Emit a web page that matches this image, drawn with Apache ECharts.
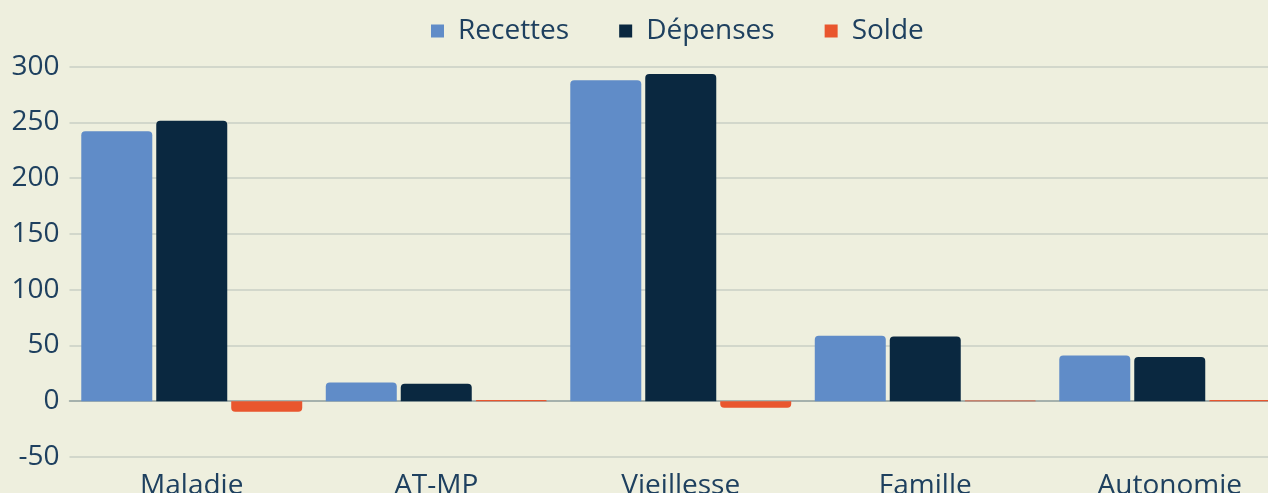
<!DOCTYPE html>
<html>
<head>
<meta charset="utf-8">
<script src="https://cdn.jsdelivr.net/npm/echarts@6/dist/echarts.min.js"></script>
<style>
  html, body { margin: 0; padding: 0; background: #eeefde; overflow: hidden; }
  #chart { width: 1292px; height: 493px; }
</style>
</head>
<body>
<div id="chart"></div>
<script>
const categories = ['Maladie', 'AT-MP', 'Vieillesse', 'Famille', 'Autonomie'];
const recettes = [242.2, 16.8, 287.8, 58.7, 41.0];
const depenses = [251.6, 15.7, 293.4, 58.0, 39.7];
const solde = [-9.4, 1.1, -5.9, 0.6, 1.2];
const yTicks = { min: -50, max: 300, interval: 50 };

const textColor = '#1e405f';
const font = 'Open Sans';

function barData(values) {
  return values.map(v => ({
    value: v,
    itemStyle: { borderRadius: v < 0 ? [0, 0, 4, 4] : [4, 4, 0, 0] }
  }));
}

let myChart = echarts.init(document.getElementById('chart'));
let option = {
  backgroundColor: '#eeefde',
  animation: false,
  textStyle: { fontFamily: font },
  legend: {
    top: 12,
    left: 426,
    itemWidth: 13,
    itemHeight: 13,
    itemGap: 50,
    icon: 'rect',
    textStyle: { color: textColor, fontSize: 28, fontFamily: font, padding: [0, 0, 0, 9] },
    data: ['Recettes', 'Dépenses', 'Solde']
  },
  grid: {
    left: 69.5,
    right: 0,
    top: 66.7,
    bottom: 36,
    outerBoundsMode: 'none'
  },
  xAxis: [
    {
      type: 'category',
      data: categories,
      axisLine: { show: false, onZero: false },
      axisTick: { show: false },
      axisLabel: { color: textColor, fontSize: 28, fontFamily: font, margin: 15 }
    },
    {
      // ligne du zéro
      type: 'category',
      data: categories,
      axisLine: { show: true, onZero: true, lineStyle: { color: '#97a5a3', width: 1.5 } },
      axisTick: { show: false },
      axisLabel: { show: false }
    }
  ],
  yAxis: {
    type: 'value',
    min: yTicks.min,
    max: yTicks.max,
    interval: yTicks.interval,
    axisLabel: { color: textColor, fontSize: 28, fontFamily: font, margin: 10 },
    splitLine: { lineStyle: { color: '#c9cfc4', width: 1.5 } }
  },
  series: [
    {
      name: 'Recettes',
      type: 'bar',
      barWidth: 71,
      barGap: '5.6%',
      itemStyle: { color: '#608cc8' },
      data: barData(recettes)
    },
    {
      name: 'Dépenses',
      type: 'bar',
      barWidth: 71,
      barGap: '5.6%',
      itemStyle: { color: '#0a2840' },
      data: barData(depenses)
    },
    {
      name: 'Solde',
      type: 'bar',
      barWidth: 71,
      barGap: '5.6%',
      itemStyle: { color: '#e9562e' },
      data: barData(solde)
    }
  ]
};
myChart.setOption(option);
</script>
</body>
</html>
